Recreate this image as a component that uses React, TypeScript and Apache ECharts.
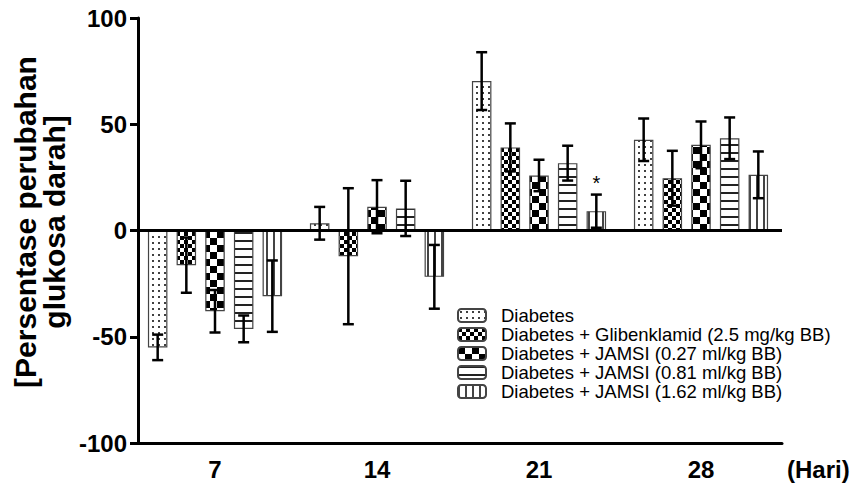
import React, { useEffect, useRef } from "react";
import * as echarts from "echarts";

const days = ["7", "14", "21", "28"];
const seriesNames = [
  "Diabetes",
  "Diabetes + Glibenklamid (2.5 mg/kg BB)",
  "Diabetes + JAMSI (0.27 ml/kg BB)",
  "Diabetes + JAMSI (0.81 ml/kg BB)",
  "Diabetes + JAMSI (1.62 ml/kg BB)",
];
const diabetesMean = [-55, 3.4, 70.3, 42.7];
const diabetesErr = [6, 7.7, 13.6, 10];
const glibenMean = [-16.3, -12.1, 39.1, 24.6];
const glibenErr = [13, 32, 11.3, 12.9];
const jamsi027Mean = [-38, 11.2, 25.9, 40.3];
const jamsi027Err = [10, 12.5, 7.4, 11];
const jamsi081Mean = [-46.3, 10.4, 31.7, 43.4];
const jamsi081Err = [6.3, 13, 8.2, 9.8];
const jamsi162Mean = [-30.9, -21.8, 9.1, 26.2];
const jamsi162Err = [16.8, 15, 7.8, 11];
// significance marks per series per day
const marks162 = ["", "", "*", ""];
const noMarks = ["", "", "", ""];

const means = [diabetesMean, glibenMean, jamsi027Mean, jamsi081Mean, jamsi162Mean];
const errs = [diabetesErr, glibenErr, jamsi027Err, jamsi081Err, jamsi162Err];
const marks = [noMarks, noMarks, noMarks, noMarks, marks162];
const yTicks = { min: -100, max: 100, interval: 50 };

const FONT = "'Liberation Sans', Arial, sans-serif";
const BAR_W = 19.5;
const BAR_GAP = 0.47;

function mkCanvas(w: number, h: number, draw: (g: CanvasRenderingContext2D) => void) {
  const c = document.createElement("canvas");
  c.width = w;
  c.height = h;
  const g = c.getContext("2d")!;
  g.fillStyle = "#fff";
  g.fillRect(0, 0, w, h);
  g.fillStyle = "#000";
  draw(g);
  return c;
}

function patterns() {
  const dots = mkCanvas(6, 6, (g) => {
    g.beginPath();
    g.arc(3, 3, 1, 0, Math.PI * 2);
    g.fill();
  });
  const smallChk = mkCanvas(8, 8, (g) => {
    g.fillRect(0, 0, 4, 4);
    g.fillRect(4, 4, 4, 4);
  });
  const bigChk = mkCanvas(14, 14, (g) => {
    g.fillRect(0, 0, 7, 7);
    g.fillRect(7, 7, 7, 7);
  });
  const hLines = mkCanvas(8, 8, (g) => {
    g.fillStyle = "#222";
    g.fillRect(0, 0, 8, 2);
  });
  const vLines = mkCanvas(7, 7, (g) => {
    g.fillStyle = "#444";
    g.fillRect(0, 0, 2, 7);
  });
  return [dots, smallChk, bigChk, hLines, vLines].map((c) => ({ image: c, repeat: "repeat" }));
}

export default function App() {
  const ref = useRef<HTMLDivElement>(null);
  useEffect(() => {
    const chart = echarts.init(ref.current!, undefined, { renderer: "svg" });
    const pats = patterns();
    const barSeries = seriesNames.map((name, i) => ({
      name,
      type: "bar",
      data: means[i],
      barWidth: BAR_W,
      barGap: BAR_GAP * 100 + "%",
      itemStyle: { color: pats[i] as any, borderColor: "#444", borderWidth: 1.2 },
      z: 2,
      ...(i === 0
        ? {
            markLine: {
              silent: true,
              symbol: "none",
              label: { show: false },
              lineStyle: { color: "#000", width: 3, type: "solid" },
              data: [{ yAxis: 0 }],
            },
          }
        : {}),
    }));
    const errData: any[] = [];
    means.forEach((m, s) =>
      m.forEach((v, d) => errData.push([d, v, errs[s][d], s, marks[s][d]]))
    );
    const n = seriesNames.length;
    const errSeries = {
      type: "custom",
      name: "err",
      z: 4,
      silent: true,
      data: errData,
      renderItem: (params: any, api: any) => {
        const d = api.value(0);
        const m = api.value(1);
        const e = api.value(2);
        const s = api.value(3);
        const mk = errData[params.dataIndex][4];
        const gap = BAR_W * BAR_GAP;
        const total = n * BAR_W + (n - 1) * gap;
        const c = api.coord([d, m]);
        const x = c[0] - total / 2 + s * (BAR_W + gap) + BAR_W / 2;
        const yt = api.coord([d, m + e])[1];
        const yb = api.coord([d, m - e])[1];
        const cap = 5.5;
        const st = { stroke: "#000", lineWidth: 2.5 };
        const children: any[] = [
          { type: "line", shape: { x1: x, y1: yt, x2: x, y2: yb }, style: st },
          { type: "line", shape: { x1: x - cap, y1: yt, x2: x + cap, y2: yt }, style: st },
          { type: "line", shape: { x1: x - cap, y1: yb, x2: x + cap, y2: yb }, style: st },
        ];
        if (mk) {
          children.push({
            type: "text",
            style: {
              text: mk,
              x,
              y: yt - 2,
              textAlign: "center",
              textVerticalAlign: "bottom",
              font: `20px ${FONT}`,
              fill: "#000",
            },
          });
        }
        return { type: "group", children };
      },
    };
    chart.setOption({
      animation: false,
      textStyle: { fontFamily: FONT },
      grid: { left: 134, right: 74, top: 18, bottom: 40, containLabel: false },
      legend: {
        data: seriesNames,
        orient: "vertical",
        left: 457,
        top: 306,
        padding: 0,
        itemWidth: 28,
        itemHeight: 13,
        itemGap: 0,
        selectedMode: false,
        textStyle: { fontSize: 18.5, color: "#000", fontFamily: FONT, lineHeight: 18.3, padding: [0, 0, 0, 10] },
      },
      xAxis: {
        type: "category",
        data: days,
        axisLine: { onZero: false, lineStyle: { color: "#000", width: 3 } },
        axisTick: { alignWithLabel: true, length: 7, lineStyle: { width: 3, color: "#000" } },
        axisLabel: { fontSize: 24, fontWeight: "bold", color: "#000", margin: 14, fontFamily: FONT },
        name: "(Hari)",
        nameLocation: "end",
        nameGap: 5,
        nameTextStyle: {
          fontSize: 24,
          fontWeight: "bold",
          color: "#000",
          fontFamily: FONT,
          verticalAlign: "top",
          padding: [14, 0, 0, 0],
        },
      },
      yAxis: {
        type: "value",
        min: yTicks.min,
        max: yTicks.max,
        interval: yTicks.interval,
        offset: -4,
        axisLine: { show: true, lineStyle: { color: "#000", width: 3 } },
        axisTick: { show: true, length: 8, lineStyle: { width: 3, color: "#000" } },
        axisLabel: { fontSize: 24, fontWeight: "bold", color: "#000", margin: 11, fontFamily: FONT },
        splitLine: { show: false },
      },
      graphic: [
        {
          type: "text",
          x: 40,
          y: 222,
          rotation: Math.PI / 2,
          style: {
            text: "[Persentase perubahan\nglukosa darah]",
            font: `bold 30px ${FONT}`,
            textAlign: "center",
            textVerticalAlign: "middle",
            lineHeight: 29,
            fill: "#000",
          },
        },
      ],
      series: [...barSeries, errSeries],
    });
    return () => chart.dispose();
  }, []);
  return (
    <div
      ref={ref}
      style={{ position: "fixed", left: 0, top: 0, width: 856, height: 483, background: "#fff" }}
    />
  );
}
